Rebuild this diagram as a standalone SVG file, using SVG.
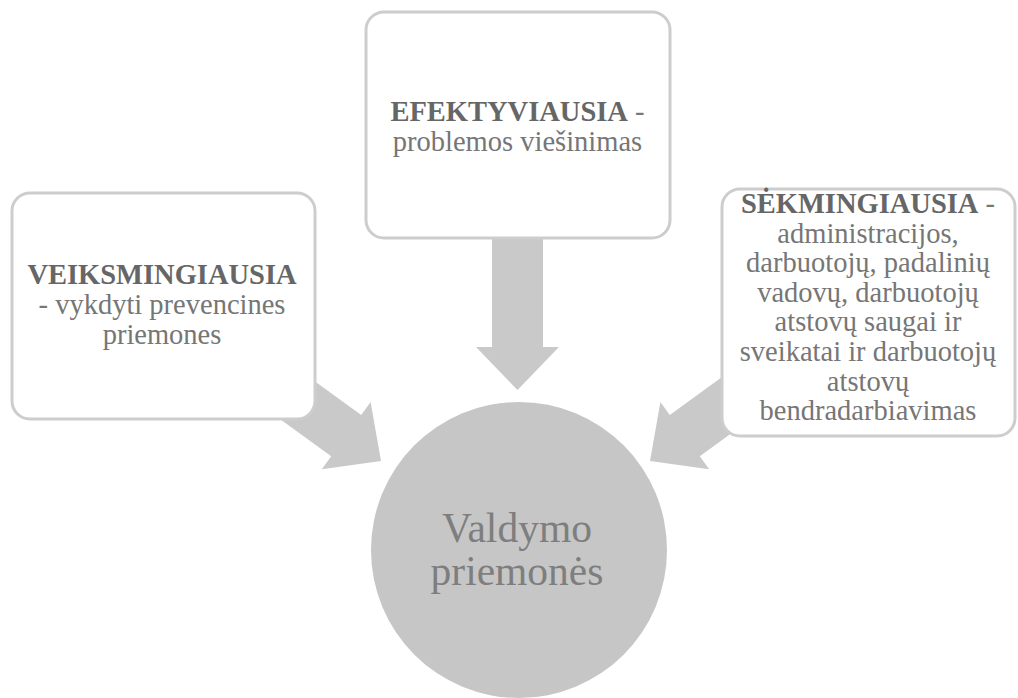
<svg xmlns="http://www.w3.org/2000/svg" width="1018" height="698" viewBox="0 0 1018 698">
<style>
.box{fill:#ffffff;stroke:#cdcdcd;stroke-width:3}
.arrow{fill:#c9c9c9}
.t{font-family:"Liberation Serif","Times New Roman",serif;font-size:28.5px;fill:#767676;text-anchor:middle}
.b{font-weight:bold;fill:#666666}
.c{font-family:"Liberation Serif","Times New Roman",serif;font-size:41.5px;fill:#7e7e7e;text-anchor:middle}
</style>
<rect width="1018" height="698" fill="#ffffff"/>
<g id="connectors">
<polygon class="arrow" points="492,236 543,236 543,347 559,347 517.5,390 476,347 492,347"/>
<polygon class="arrow" points="234.1,385.7 331.2,456.3 321.8,469.3 381,461 370.6,402.1 361.2,415.1 264.1,344.5"/>
<polygon class="arrow" points="796.9,385.7 699.8,456.3 709.2,469.3 650,461 660.4,402.1 669.8,415.1 766.9,344.5"/>
</g>
<g id="node-center">
<circle cx="519" cy="550" r="148" fill="#c6c6c6"/>
<text class="c" x="517" y="542">Valdymo</text>
<text class="c" x="517" y="585">priemonės</text>
</g>
<g id="node-top">
<rect class="box" x="366" y="12" width="304" height="226" rx="18"/>
<text class="t" x="517.5" y="121"><tspan class="b">EFEKTYVIAUSIA</tspan> -</text>
<text class="t" x="517.5" y="151">problemos viešinimas</text>
</g>
<g id="node-left">
<rect class="box" x="12" y="193" width="303" height="226" rx="18"/>
<text class="t b" x="162" y="284">VEIKSMINGIAUSIA</text>
<text class="t" x="162" y="314">- vykdyti prevencines</text>
<text class="t" x="162" y="344">priemones</text>
</g>
<g id="node-right">
<rect class="box" x="722" y="189" width="293" height="247" rx="18"/>
<text class="t" x="868" y="213"><tspan class="b">SĖKMINGIAUSIA</tspan> -</text>
<text class="t" x="868" y="242.6">administracijos,</text>
<text class="t" x="868" y="272.2">darbuotojų, padalinių</text>
<text class="t" x="868" y="301.8">vadovų, darbuotojų</text>
<text class="t" x="868" y="331.4">atstovų saugai ir</text>
<text class="t" x="868" y="361">sveikatai ir darbuotojų</text>
<text class="t" x="868" y="390.6">atstovų</text>
<text class="t" x="868" y="420.2">bendradarbiavimas</text>
</g>
</svg>
